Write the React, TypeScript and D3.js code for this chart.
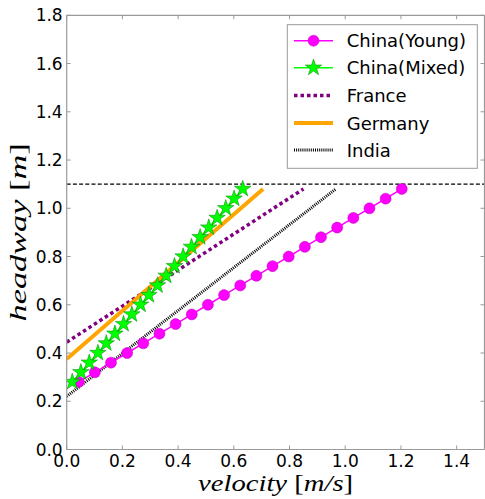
import React from "react";
import * as d3 from "d3";

const youngV = [0.043, 0.101, 0.159, 0.217, 0.275, 0.333, 0.391, 0.449, 0.507, 0.565, 0.623, 0.681, 0.739, 0.797, 0.855, 0.913, 0.971, 1.029, 1.087, 1.145, 1.203];
const youngH = [0.28, 0.32, 0.36, 0.40, 0.44, 0.48, 0.52, 0.56, 0.60, 0.64, 0.68, 0.72, 0.76, 0.80, 0.84, 0.88, 0.92, 0.96, 1.00, 1.04, 1.08];
const mixedV = [0.020, 0.051, 0.081, 0.112, 0.142, 0.173, 0.204, 0.234, 0.265, 0.295, 0.326, 0.357, 0.387, 0.418, 0.448, 0.479, 0.510, 0.540, 0.571, 0.601, 0.632];
const mixedH = [0.28, 0.32, 0.36, 0.40, 0.44, 0.48, 0.52, 0.56, 0.60, 0.64, 0.68, 0.72, 0.76, 0.80, 0.84, 0.88, 0.92, 0.96, 1.00, 1.04, 1.08];
const franceV = [0, 0.85];
const franceH = [0.445, 1.08];
const germanyV = [0, 0.705];
const germanyH = [0.375, 1.08];
const indiaV = [0, 0.966];
const indiaH = [0.22, 1.08];
const limitH = 1.1;
const xTicks = [0, 0.2, 0.4, 0.6, 0.8, 1.0, 1.2, 1.4];
const yTicks = [0, 0.2, 0.4, 0.6, 0.8, 1.0, 1.2, 1.4, 1.6, 1.8];
const legendLabels = ["China(Young)", "China(Mixed)", "France", "Germany", "India"];

const W = 485, H = 499;
const L = 66.7, R = 484.5, T = 15.3, B = 449.5;

export default function App() {
  const x = d3.scaleLinear().domain([0, 1.5]).range([L, R]);
  const y = d3.scaleLinear().domain([0, 1.8]).range([B, T]);
  const line = (vs: number[], hs: number[]) =>
    d3.line<number>().x((_, i) => x(vs[i])).y((_, i) => y(hs[i]))(vs.map((v) => v)) || "";
  const star = d3.symbol().type(d3.symbolStar).size(85)() || "";
  const spine = "#9a9a9a";
  const font = "'DejaVu Sans', sans-serif";
  const serif = "'Liberation Serif', 'Times New Roman', serif";

  const styles = [
    { stroke: "#ff00ff", width: 1.5, dash: "" },
    { stroke: "#00ff00", width: 1.5, dash: "" },
    { stroke: "#800080", width: 3.5, dash: "3.5,3" },
    { stroke: "#ffa500", width: 4, dash: "" },
    { stroke: "#000000", width: 3, dash: "1,1.1" },
  ];

  const legX0 = 294, legX1 = 333, legText = 346.7;
  const legRows = [40.7, 67.7, 95.5, 123, 150];

  return (
    <svg width={W} height={H} style={{ position: "fixed", left: 0, top: 0, background: "#fff" }}>
      <defs>
        <clipPath id="plot">
          <rect x={L} y={T} width={R - L} height={B - T} />
        </clipPath>
      </defs>
      <rect x={0} y={0} width={W} height={H} fill="#fff" />
      <g clipPath="url(#plot)">
        <line x1={x(0)} x2={x(1.5)} y1={y(limitH)} y2={y(limitH)} stroke="#000" strokeWidth={1.3} strokeDasharray="4,2.2" />
        <path d={line(franceV, franceH)} fill="none" stroke={styles[2].stroke} strokeWidth={styles[2].width} strokeDasharray={styles[2].dash} />
        <path d={line(germanyV, germanyH)} fill="none" stroke={styles[3].stroke} strokeWidth={styles[3].width} />
        <path d={line(indiaV, indiaH)} fill="none" stroke={styles[4].stroke} strokeWidth={styles[4].width} strokeDasharray={styles[4].dash} />
        <path d={line(youngV, youngH)} fill="none" stroke={styles[0].stroke} strokeWidth={styles[0].width} />
        {youngV.map((v, i) => (
          <circle key={"y" + i} cx={x(v)} cy={y(youngH[i])} r={5.5} fill="#ff00ff" stroke="#b000b0" strokeWidth={0.5} />
        ))}
        <path d={line(mixedV, mixedH)} fill="none" stroke={styles[1].stroke} strokeWidth={styles[1].width} />
        {mixedV.map((v, i) => (
          <path key={"m" + i} d={star} transform={`translate(${x(v)},${y(mixedH[i])})`} fill="#00ff00" stroke="#008000" strokeWidth={0.5} />
        ))}
      </g>
      {/* spines */}
      <line x1={L} x2={L} y1={T} y2={B} stroke={spine} strokeWidth={1.2} />
      <line x1={L} x2={R} y1={B} y2={B} stroke={spine} strokeWidth={1.2} />
      <line x1={L} x2={R} y1={T} y2={T} stroke={spine} strokeWidth={1.2} />
      <line x1={R} x2={R} y1={T} y2={B} stroke={spine} strokeWidth={1.2} />
      {/* ticks */}
      {xTicks.map((t) => (
        <g key={"xt" + t}>
          <line x1={x(t)} x2={x(t)} y1={B} y2={B - 4} stroke={spine} />
          <line x1={x(t)} x2={x(t)} y1={T} y2={T + 4} stroke={spine} />
          <text x={x(t)} y={B + 17} fontFamily={font} fontSize={17} textAnchor="middle" fill="#000">
            {t.toFixed(1)}
          </text>
        </g>
      ))}
      {yTicks.map((t) => (
        <g key={"yt" + t}>
          <line x1={L} x2={L + 4} y1={y(t)} y2={y(t)} stroke={spine} />
          <line x1={R} x2={R - 4} y1={y(t)} y2={y(t)} stroke={spine} />
          <text x={L - 4} y={y(t) + 6} fontFamily={font} fontSize={17} textAnchor="end" fill="#000">
            {t.toFixed(1)}
          </text>
        </g>
      ))}
      {/* axis labels */}
      <text x={(L + R) / 2} y={491} textAnchor="middle" fontFamily={serif} fontSize={24} textLength={155} lengthAdjust="spacingAndGlyphs" fill="#000">
        <tspan fontStyle="italic">velocity </tspan>
        <tspan>[</tspan>
        <tspan fontStyle="italic">m/s</tspan>
        <tspan>]</tspan>
      </text>
      <text transform={`translate(26,${(T + B) / 2}) rotate(-90)`} textAnchor="middle" fontFamily={serif} fontSize={24} textLength={178} lengthAdjust="spacingAndGlyphs" fill="#000">
        <tspan fontStyle="italic">headway </tspan>
        <tspan>[</tspan>
        <tspan fontStyle="italic">m</tspan>
        <tspan>]</tspan>
      </text>
      {/* legend */}
      <rect x={287.3} y={24.7} width={190} height={143.6} fill="#fff" stroke={spine} strokeWidth={1} />
      {legendLabels.map((lab, i) => (
        <g key={"lg" + i}>
          <line x1={legX0} x2={legX1} y1={legRows[i]} y2={legRows[i]} stroke={styles[i].stroke} strokeWidth={styles[i].width} strokeDasharray={styles[i].dash} />
          {i === 0 && <circle cx={(legX0 + legX1) / 2} cy={legRows[i]} r={5.5} fill="#ff00ff" stroke="#b000b0" strokeWidth={0.5} />}
          {i === 1 && (
            <path d={star} transform={`translate(${(legX0 + legX1) / 2},${legRows[i]})`} fill="#00ff00" stroke="#008000" strokeWidth={0.5} />
          )}
          <text x={legText} y={legRows[i] + 6.5} fontFamily={font} fontSize={18} fill="#000">
            {lab}
          </text>
        </g>
      ))}
    </svg>
  );
}
